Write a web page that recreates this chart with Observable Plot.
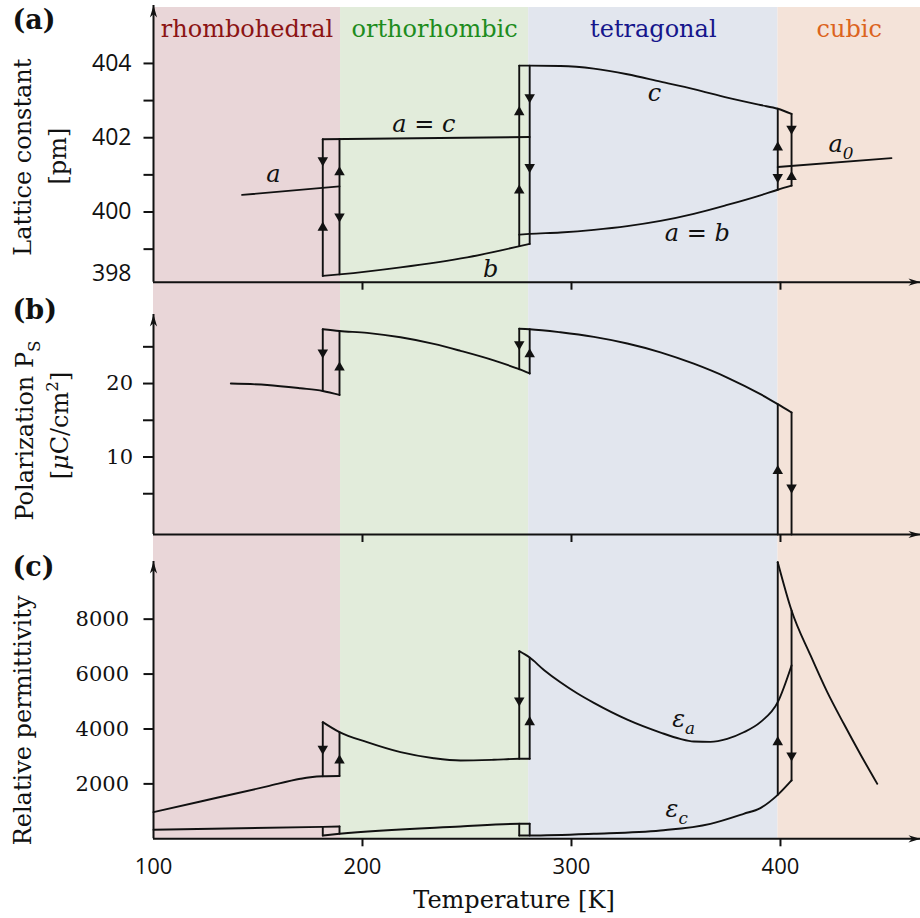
<!DOCTYPE html>
<html><head><meta charset="utf-8">
<script src="https://cdn.jsdelivr.net/npm/d3@7"></script>
<script src="https://cdn.jsdelivr.net/npm/@observablehq/plot@0.6"></script>
<style>
body{margin:0;background:#fff;}
#chart{width:920px;height:918px;overflow:hidden;}
#chart svg{display:block;}
</style></head><body><div id="chart"></div>
<script>
// ---------------- data ----------------
const phaseNames = ["rhombohedral", "orthorhombic", "tetragonal", "cubic"];
const phaseEdges = [100, 189.5, 279.5, 398.8, 467];

const xTickMarks = [200, 300, 400];
const xTickLabels = [100, 200, 300, 400];
const yTicksA = [399, 400, 401, 402, 403, 404];
const yLabelBottomA = ["398"];
const yTicksB = [5, 10, 15, 20, 25];
const yTicksC = [2000, 4000, 6000, 8000];

// (a) lattice constant [pm]  -- [T, value]
const latA_a   = [[142.4,400.46],[189,400.69]];
const latA_ac  = [[181,401.96],[280,402.02]];
const latA_b   = [[181,398.28],[189,398.32],[218.2,398.51],[250.1,398.78],[280,399.14]];
const latA_c   = [[275,403.94],[280,403.94],[294.7,403.93],[310.7,403.86],[326.7,403.71],[342.6,403.51],[358.5,403.31],[374.5,403.08],[390.4,402.88],[398.7,402.78],[405.3,402.64]];
const latA_ab  = [[275,399.39],[280,399.41],[294.7,399.45],[310.7,399.52],[326.7,399.62],[342.6,399.76],[358.5,399.95],[374.5,400.19],[390.4,400.45],[398.7,400.60],[405.3,400.71]];
const latA_a0  = [[398.7,401.21],[453.1,401.45]];
const latA_jumps = [
  [[181,401.96],[181,398.28]], [[189,401.97],[189,398.32]],
  [[275,403.94],[275,399.08]], [[280,403.94],[280,399.14]],
  [[398.7,402.78],[398.7,400.60]], [[405.3,402.64],[405.3,400.71]]
];
const latA_arrows = [
  [181,401.39,"down"],[181,399.58,"up"],[189,401.07,"up"],[189,399.88,"down"],
  [275,402.69,"up"],[275,400.58,"up"],[280,403.09,"down"],[280,401.21,"down"],
  [398.7,401.74,"up"],[398.7,400.94,"down"],[405.3,402.24,"down"],[405.3,400.94,"up"]
];
const latA_names = [
  {text:"a", T:157.4, v:400.80}, {text:"a = c", T:229.4, v:402.15},
  {text:"c", T:339.7, v:403.00}, {text:"a = b", T:360.2, v:399.21},
  {text:"b", T:261.3, v:398.24}
];
const latA_names2 = [{text:"a_{0}", T:423.0, v:401.61}];

// (b) polarization [µC/cm²]
const polB_r = [[137,20.0],[154.4,19.81],[170.3,19.36],[181,18.99],[189,18.45]];
const polB_o = [[181,27.39],[189,27.16],[202.2,26.90],[218.2,26.30],[234.1,25.40],[246.9,24.45],[262.8,23.15],[275,21.95],[280,21.37]];
const polB_t = [[275,27.45],[280,27.39],[294.7,26.98],[310.7,26.35],[326.7,25.45],[342.6,24.25],[358.5,22.70],[374.5,20.82],[390.4,18.55],[398.7,17.19],[405.3,16.06]];
const polB_jumps = [
  [[181,18.99],[181,27.39]], [[189,27.16],[189,18.45]],
  [[275,21.95],[275,27.45]], [[280,27.39],[280,21.37]],
  [[398.7,17.19],[398.7,null]], [[405.3,16.06],[405.3,null]]
];
const polB_arrows = [
  [181,24.22,"down"],[189,22.18,"up"],[275,25.35,"down"],[280,23.99,"up"],
  [398.7,8.1,"up"],[405.3,5.84,"down"]
];

// (c) relative permittivity
const epsA_r = [[100,969],[122.5,1359],[138.4,1632],[154.4,1909],[170.3,2186],[175.1,2244],[181,2280],[189,2290]];
const epsA_o = [[181,4248],[189,3883],[202.2,3519],[218.2,3155],[234.1,2936],[246.9,2852],[262.8,2878],[275,2914],[280,2914]];
const epsA_t = [[275,6834],[280,6600],[286.8,6150],[294.7,5700],[302.7,5300],[310.7,4950],[326.7,4340],[342.6,3870],[352,3640],[358.5,3545],[366.5,3530],[374.5,3640],[382.4,3880],[390.4,4250],[398.7,4976],[405.3,6313]];
const eps_cub = [[398.7,10076],[405.3,8317],[414.4,6678],[422.4,5341],[430.3,4189],[438.3,3071],[446.3,2004]];
const epsC_r = [[100,328],[181,435],[189,448]];
const epsC_o = [[181,120],[189,182],[246.9,448],[275,546],[280,546]];
const epsC_t = [[275,120],[280,120],[310.7,182],[342.6,302],[366.5,546],[382.4,911],[390.4,1120],[398.7,1600],[405.3,2125]];
const epsC_jumps = [
  [[181,2280],[181,4248]], [[181,435],[181,120]],
  [[189,2290],[189,3883]], [[189,448],[189,182]],
  [[275,2914],[275,6834]], [[275,546],[275,120]],
  [[280,2914],[280,6600]], [[280,546],[280,120]],
  [[398.7,1600],[398.7,10076]], [[405.3,2125],[405.3,8317]]
];
const epsC_arrows = [
  [181,3279,"down"],[189,2852,"up"],[275,5038,"down"],[280,4248,"up"],
  [398.7,3519,"up"],[405.3,3035,"down"]
];
const epsC_names = [{text:"ε_{a}", T:348.2, v:4066}, {text:"ε_{c}", T:345.0, v:787}];

const yLabA = ["Lattice constant", "[pm]"];
const yLabB = ["Polarization P_{S}", "[*μ*C/cm^{2}]"];
const yLabC = ["Relative permittivity"];
const xLab = ["Temperature [K]"];
const panelTags = ["(a)", "(b)", "(c)"];

// ---------------- styles ----------------
const phaseFill = ["#e9d6d8", "#e2ecdb", "#e2e6ee", "#f4e3d9"];
const phaseInk  = ["#8c1414", "#1e8c1e", "#16168c", "#dc641e"];
const SERIF = "DejaVu Serif", SANS = "Open Sans", INK = "#111";
const X = {domain: [100, 467]};
const yDomA = [398.11, 405.56], yDomB = [-0.55, 29.4], yDomC = [0, 10100];

const triDown = {draw(ctx, size){ const y = Math.sqrt(size/(3*Math.sqrt(3))); ctx.moveTo(0,2*y); ctx.lineTo(Math.sqrt(3)*y,-y); ctx.lineTo(-Math.sqrt(3)*y,-y); ctx.closePath(); }};
const stealthUp = {draw(ctx, size){ const r = Math.sqrt(size/Math.PI), L = 2.4*r, w = 0.72*r; ctx.moveTo(0,0); ctx.lineTo(w,L); ctx.lineTo(0,0.7*L); ctx.lineTo(-w,L); ctx.closePath(); }};
const stealthRight = {draw(ctx, size){ const r = Math.sqrt(size/Math.PI), L = 2.4*r, w = 0.72*r; ctx.moveTo(0,0); ctx.lineTo(-L,w); ctx.lineTo(-0.7*L,0); ctx.lineTo(-L,-w); ctx.closePath(); }};

function bandLayer(top, toFrameBottom) {
  return (index, scales, values, dims) => {
    const g = d3.create("svg:g");
    const y1 = toFrameBottom ? dims.height - dims.marginBottom : dims.height;
    phaseNames.forEach((n, i) => {
      const xa = scales.x(phaseEdges[i]), xb = scales.x(phaseEdges[i+1]);
      g.append("rect").attr("x", xa).attr("y", top).attr("width", xb - xa).attr("height", y1 - top).attr("fill", phaseFill[i]);
    });
    return g.node();
  };
}
const line = (data, smooth = true) => Plot.line(data, {x: d => d[0], y: d => d[1], stroke: INK, strokeWidth: 1.9, curve: smooth ? "monotone-x" : "linear"});
const jumps = (list, yMin) => list.map(seg => line(seg.map(p => [p[0], p[1] == null ? yMin : p[1]]), false));
const arrows = (data) => [
  Plot.dot(data.filter(d => d[2] === "up"), {x: d => d[0], y: d => d[1], symbol: d3.symbolTriangle, r: 3.9, fill: INK, stroke: "none"}),
  Plot.dot(data.filter(d => d[2] === "down"), {x: d => d[0], y: d => d[1], symbol: triDown, r: 3.9, fill: INK, stroke: "none"})
];
const frameAxes = (yDom) => [
  Plot.ruleX([X.domain[0]], {y1: yDom[0], y2: yDom[1], stroke: INK, strokeWidth: 2}),
  Plot.ruleY([yDom[0]], {x1: X.domain[0], x2: X.domain[1], stroke: INK, strokeWidth: 2}),
  Plot.dot([[X.domain[0], yDom[1]]], {x: d => d[0], y: d => d[1], symbol: stealthUp, r: 5, fill: INK, stroke: "none"}),
  Plot.dot([[X.domain[1], yDom[0]]], {x: d => d[0], y: d => d[1], symbol: stealthRight, r: 5, fill: INK, stroke: "none"})
];
const xTicksOnly = () => Plot.axisX({ticks: xTickMarks, tickSize: 8, tickFormat: () => null, strokeWidth: 2, stroke: INK, label: null});
const tag = (t, dy) => Plot.text([t], {frameAnchor: "top-left", dx: -141, dy, textAnchor: "start", lineAnchor: "bottom", fontFamily: SERIF, fontWeight: "bold", fontSize: 27, fill: INK});
const ylab = (t, dx, dy) => Plot.text([t], {frameAnchor: "left", dx, dy, rotate: -90, textAnchor: "middle", lineAnchor: "middle", fontFamily: SERIF, fontSize: 24, fill: INK});
const common = {width: 920, marginLeft: 153, marginRight: 0, x: X};

// ---------------- panel (a) ----------------
const plotA = Plot.plot({
  ...common, height: 292, marginTop: 5, marginBottom: 10.3,
  y: {domain: yDomA},
  marks: [
    bandLayer(7, false),
    Plot.text(phaseNames.map((n, i) => ({n, i, x: (phaseEdges[i] + phaseEdges[i+1]) / 2})),
      {x: "x", text: "n", frameAnchor: "top", dy: 31.7, lineAnchor: "bottom", fontFamily: SERIF, fontSize: 24, fill: d => phaseInk[d.i]}),
    line(latA_a, false), line(latA_ac, false), line(latA_b), line(latA_c), line(latA_ab), line(latA_a0, false),
    ...jumps(latA_jumps, yDomA[0]),
    ...arrows(latA_arrows),
    ...frameAxes(yDomA),
    xTicksOnly(),
    Plot.axisY({ticks: yTicksA, tickSize: 9.5, tickPadding: 12.5, tickFormat: d => d % 2 === 0 ? String(d) : null, fontFamily: SANS, fontSize: 23, strokeWidth: 2, stroke: INK, fill: INK, label: null}),
    Plot.text(yLabelBottomA, {frameAnchor: "bottom-left", dx: -22, dy: -9, textAnchor: "end", lineAnchor: "middle", fontFamily: SANS, fontSize: 23, fill: INK}),
    Plot.text(latA_names, {x: "T", y: "v", text: "text", textAnchor: "middle", lineAnchor: "bottom", fontFamily: SERIF, fontStyle: "italic", fontSize: 24, fill: INK}),
    Plot.text(latA_names2, {x: "T", y: "v", text: "text", textAnchor: "start", lineAnchor: "bottom", fontFamily: SERIF, fontStyle: "italic", fontSize: 24, fill: INK}),
    tag(panelTags[0], 23.3),
    ylab(yLabA[0], -130, 13.3), ylab(yLabA[1], -95, 12.3)
  ]
});

// ---------------- panel (b) ----------------
const plotB = Plot.plot({
  ...common, height: 253, marginTop: 22, marginBottom: 11,
  y: {domain: yDomB},
  marks: [
    bandLayer(0, false),
    line(polB_r), line(polB_o), line(polB_t),
    ...jumps(polB_jumps, yDomB[0]),
    ...arrows(polB_arrows),
    ...frameAxes(yDomB),
    xTicksOnly(),
    Plot.axisY({ticks: yTicksB, tickSize: 10, tickPadding: 10.5, tickFormat: d => d % 10 === 0 ? String(d) : null, fontFamily: SERIF, fontSize: 21, strokeWidth: 2, stroke: INK, fill: INK, label: null}),
    tag(panelTags[1], 4.3),
    ylab(yLabB[0], -128, 6), ylab(yLabB[1], -93, 1)
  ]
});

// ---------------- panel (c) ----------------
const plotC = Plot.plot({
  ...common, height: 373, marginTop: 16, marginBottom: 79.7,
  y: {domain: yDomC},
  marks: [
    bandLayer(0, true),
    line(epsA_r), line(epsA_o), line(epsA_t), line(eps_cub),
    line(epsC_r, false), line(epsC_o), line(epsC_t),
    ...jumps(epsC_jumps, yDomC[0]),
    ...arrows(epsC_arrows),
    ...frameAxes(yDomC),
    xTicksOnly(),
    Plot.axisX({ticks: xTickLabels, tickSize: 0, tickPadding: 20, fontFamily: SANS, fontSize: 22, fill: INK, label: null}),
    Plot.axisY({ticks: yTicksC, tickSize: 9.5, tickPadding: 15, fontFamily: SERIF, fontSize: 21, strokeWidth: 2, stroke: INK, fill: INK, label: null, tickFormat: d => String(d)}),
    Plot.text(epsC_names, {x: "T", y: "v", text: "text", textAnchor: "start", lineAnchor: "bottom", fontFamily: SERIF, fontStyle: "italic", fontSize: 24, fill: INK}),
    Plot.text(xLab, {frameAnchor: "bottom", dx: -23, dy: 69, textAnchor: "middle", lineAnchor: "bottom", fontFamily: SERIF, fontSize: 24, fill: INK}),
    tag(panelTags[2], 14),
    ylab(yLabC[0], -130, 20.3)
  ]
});

const root = document.getElementById("chart");
root.append(plotA, plotB, plotC);

// enforce tick-label fonts (sans for panel a y and x labels, serif for b/c y)
function setFont(svg, label, family) {
  svg.querySelectorAll(`g[aria-label="${label}"]`).forEach(g => {
    g.setAttribute("font-family", family);
    g.querySelectorAll("text").forEach(t => t.setAttribute("font-family", family));
  });
}
setFont(plotA, "y-axis tick label", SANS);
setFont(plotB, "y-axis tick label", SERIF);
setFont(plotC, "y-axis tick label", SERIF);
setFont(plotC, "x-axis tick label", SANS);

// simple markup -> tspans (sub/superscripts, italics)
function rich(svg) {
  const NS = "http://www.w3.org/2000/svg";
  svg.querySelectorAll("text").forEach(el => {
    const s = el.textContent;
    if (!/(_\{|\^\{|\*)/.test(s)) return;
    const fs = parseFloat(getComputedStyle(el).fontSize) || 20;
    while (el.firstChild) el.removeChild(el.firstChild);
    const re = /_\{([^}]*)\}|\^\{([^}]*)\}|\*([^*]+)\*|([^_^*]+)/g;
    let m, shift = 0;
    while ((m = re.exec(s))) {
      const t = document.createElementNS(NS, "tspan");
      let target = 0, txt;
      if (m[1] != null) { txt = m[1]; target = 0.28 * fs; t.setAttribute("font-size", 0.7 * fs); }
      else if (m[2] != null) { txt = m[2]; target = -0.42 * fs; t.setAttribute("font-size", 0.7 * fs); }
      else if (m[3] != null) { txt = m[3]; t.setAttribute("font-style", "italic"); }
      else txt = m[4];
      const d = target - shift;
      if (d) t.setAttribute("dy", d);
      shift = target;
      t.textContent = txt;
      el.appendChild(t);
    }
  });
}
[plotA, plotB, plotC].forEach(rich);
</script></body></html>
